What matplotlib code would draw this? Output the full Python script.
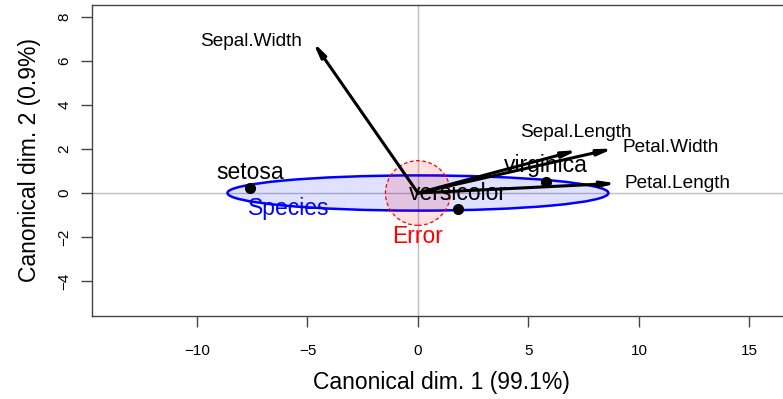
import numpy as np
import matplotlib.pyplot as plt
from matplotlib.patches import Ellipse, Circle

plt.rcParams['font.family'] = ['Liberation Sans', 'DejaVu Sans']

# canonical group means (dim 1, dim 2)
groups = ['setosa', 'versicolor', 'virginica']
can1 = [-7.607, 1.825, 5.782]
can2 = [0.215, -0.728, 0.513]

# structure vectors (scaled)
variables = ['Sepal.Length', 'Sepal.Width', 'Petal.Length', 'Petal.Width']
vec1 = [7.23, -4.75, 8.99, 8.84]
vec2 = [1.95, 6.86, 0.44, 2.02]

# H (Species) ellipse semi-axes and E (Error) circle radius
h_axes = [8.62, 0.80]
e_radius = 1.47

xticks = [-10, -5, 0, 5, 10, 15]
yticks = [-4, -2, 0, 2, 4, 6, 8]

fig = plt.figure(figsize=(7.83, 3.99), dpi=100)
ax = fig.add_axes([92 / 783, 83 / 399, 708 / 783, 311 / 399])
ax.set_xlim(-14.75, 17.29)
ax.set_ylim(-5.59, 8.545)

ax.axhline(0, color='#BEBEBE', lw=1, zorder=0)
ax.axvline(0, color='#BEBEBE', lw=1, zorder=0)

# ellipses
ax.add_patch(Ellipse((0, 0), 2 * h_axes[0], 2 * h_axes[1],
                     facecolor=(0, 0, 1, 0.12), edgecolor='none', zorder=1))
ax.add_patch(Ellipse((0, 0), 2 * h_axes[0], 2 * h_axes[1],
                     facecolor='none', edgecolor='blue', lw=1.8, zorder=2))
ax.add_patch(Circle((0, 0), e_radius, facecolor=(1, 0, 0, 0.12),
                    edgecolor='red', lw=0.9, linestyle=(0, (3, 2)), zorder=2))

ax.text(-5.84, -0.70, 'Species', color='blue', fontsize=16.5,
        ha='center', va='center', zorder=3)
ax.text(0, -1.98, 'Error', color='red', fontsize=16.5,
        ha='center', va='center', zorder=3)

# group means and labels
ax.plot(can1, can2, 'o', color='black', ms=7, zorder=5)
for g, x, y in zip(groups, can1, can2):
    ax.annotate(g, (x, y), xytext=(0, 11.5), textcoords='offset points',
                ha='center', va='center', fontsize=16.5, zorder=3)

# variable vectors
for v, x, y in zip(variables, vec1, vec2):
    ax.annotate('', xy=(x, y), xytext=(0, 0),
                arrowprops=dict(arrowstyle='-|>,head_length=0.75,head_width=0.15',
                                lw=2.2, color='black', shrinkA=0, shrinkB=0,
                                mutation_scale=11),
                zorder=4)

label_pos = {
    'Sepal.Length': (7.15, 2.73, 'center'),
    'Sepal.Width': (-5.25, 6.9, 'right'),
    'Petal.Length': (9.37, 0.45, 'left'),
    'Petal.Width': (9.28, 2.05, 'left'),
}
for v in variables:
    lx, ly, ha = label_pos[v]
    ax.text(lx, ly, v, fontsize=13.7, ha=ha, va='center', zorder=4)

ax.set_xticks(xticks)
ax.set_yticks(yticks)
ax.tick_params(axis='both', direction='out', length=8, width=1,
               labelsize=11, color='#444444')
ax.tick_params(axis='x', pad=12)
ax.tick_params(axis='y', pad=7)
for lab in ax.get_yticklabels():
    lab.set_rotation(90)
    lab.set_va('center')
for s in ax.spines.values():
    s.set_color('#444444')
    s.set_linewidth(1)

fig.text(441 / 783, 1 - 383 / 399, 'Canonical dim. 1 (99.1%)',
         fontsize=16.5, ha='center', va='center')
fig.text(30 / 783, 1 - 160 / 399, 'Canonical dim. 2 (0.9%)',
         fontsize=16.5, ha='center', va='center', rotation=90)

fig.savefig('out.png', dpi=100)
